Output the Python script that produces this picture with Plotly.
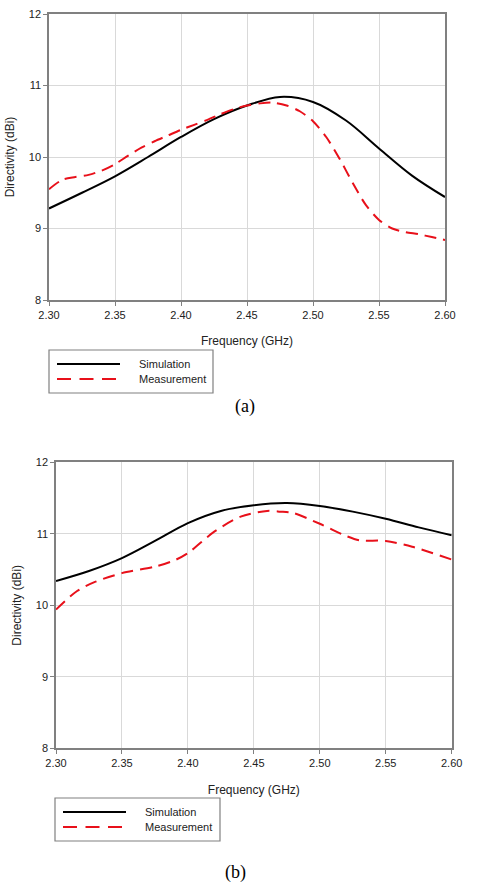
import plotly.graph_objects as go

# ---------------- data ----------------
freq_a_sim = [2.300, 2.325, 2.350, 2.375, 2.400, 2.425, 2.450, 2.475, 2.500, 2.525, 2.550, 2.575, 2.600]
dir_a_sim = [9.28, 9.50, 9.73, 10.00, 10.28, 10.53, 10.72, 10.84, 10.77, 10.51, 10.12, 9.74, 9.44]

freq_a_meas = [2.30, 2.31, 2.32, 2.33, 2.34, 2.35, 2.36, 2.37, 2.38, 2.39, 2.40, 2.41, 2.42, 2.43, 2.44, 2.45,
               2.46, 2.47, 2.48, 2.49, 2.50, 2.51, 2.52, 2.53, 2.54, 2.55, 2.56, 2.57, 2.58, 2.59, 2.60]
dir_a_meas = [9.55, 9.68, 9.72, 9.75, 9.81, 9.90, 10.02, 10.13, 10.22, 10.30, 10.38, 10.45, 10.52, 10.60, 10.67, 10.72,
              10.75, 10.76, 10.72, 10.64, 10.50, 10.28, 9.98, 9.64, 9.33, 9.12, 9.00, 8.95, 8.92, 8.88, 8.84]

freq_b_sim = [2.300, 2.325, 2.350, 2.375, 2.400, 2.425, 2.450, 2.475, 2.500, 2.525, 2.550, 2.575, 2.600]
dir_b_sim = [10.34, 10.48, 10.66, 10.90, 11.15, 11.32, 11.40, 11.43, 11.39, 11.31, 11.21, 11.09, 10.98]

freq_b_meas = [2.30, 2.316, 2.33, 2.35, 2.375, 2.39, 2.40, 2.42, 2.44, 2.46, 2.47, 2.48, 2.50, 2.52, 2.53, 2.55, 2.57, 2.60]
dir_b_meas = [9.94, 10.20, 10.33, 10.45, 10.54, 10.63, 10.73, 11.03, 11.24, 11.32, 11.31, 11.29, 11.14, 10.97, 10.91, 10.90, 10.82, 10.64]

x_ticks = [2.30, 2.35, 2.40, 2.45, 2.50, 2.55, 2.60]
x_tick_labels = ["2.30", "2.35", "2.40", "2.45", "2.50", "2.55", "2.60"]
y_ticks = [8, 9, 10, 11, 12]
series_names = ["Simulation", "Measurement"]
panel_labels = ["(a)", "(b)"]

# ---------------- figure ----------------
W, H = 486, 895
BLACK = "#000000"
RED = "#e8101a"
GRID = "#d9d9d9"
AXIS = "#808080"
FONT = "Liberation Sans, Arial, sans-serif"


def px_x(p):
    return p / W


def px_y(p):
    return 1 - p / H


fig = go.Figure()

panels = [
    dict(xa="x", ya="y", sim=(freq_a_sim, dir_a_sim), meas=(freq_a_meas, dir_a_meas)),
    dict(xa="x2", ya="y2", sim=(freq_b_sim, dir_b_sim), meas=(freq_b_meas, dir_b_meas)),
]
for p in panels:
    fig.add_trace(go.Scatter(x=p["sim"][0], y=p["sim"][1], mode="lines", name=series_names[0],
                             line=dict(color=BLACK, width=2, shape="spline", smoothing=1.0),
                             xaxis=p["xa"], yaxis=p["ya"], showlegend=False))
    fig.add_trace(go.Scatter(x=p["meas"][0], y=p["meas"][1], mode="lines", name=series_names[1],
                             line=dict(color=RED, width=2, dash="12px,7px", shape="spline", smoothing=0.8),
                             xaxis=p["xa"], yaxis=p["ya"], showlegend=False))

axis_common = dict(
    showline=True, linecolor=AXIS, linewidth=1.5, mirror=True,
    showgrid=True, gridcolor=GRID, gridwidth=1,
    ticks="outside", ticklen=4, tickcolor=AXIS, tickwidth=1,
    zeroline=False, automargin=False,
    tickfont=dict(family=FONT, size=11, color="#222222"),
)

# panel geometry in pixels: (left, right, top, bottom)
geo = [(49, 445, 14, 300), (56, 451.7, 462.3, 748.3)]

for i, (l, r, t, b) in enumerate(geo):
    sx = "" if i == 0 else "2"
    fig.layout["xaxis" + sx] = dict(
        axis_common, domain=[px_x(l), px_x(r)], range=[2.30, 2.60],
        tickvals=x_ticks, ticktext=x_tick_labels, anchor="y" + sx,
        title=dict(text="Frequency (GHz)", font=dict(family=FONT, size=12, color="#222222"), standoff=17),
    )
    fig.layout["yaxis" + sx] = dict(
        axis_common, domain=[px_y(b), px_y(t)], range=[8, 12],
        tickvals=y_ticks, anchor="x" + sx,
        title=dict(text="Directivity (dBi)", font=dict(family=FONT, size=12, color="#222222"), standoff=12),
    )

# legends (drawn as boxes with sample lines and text)
legend_boxes = [(49, 213, 350, 393), (55, 220, 798, 841)]
shapes = []
annotations = []
for (l, r, t, b) in legend_boxes:
    shapes.append(dict(type="rect", xref="paper", yref="paper",
                       x0=px_x(l), x1=px_x(r), y0=px_y(b), y1=px_y(t),
                       line=dict(color=AXIS, width=1.2), fillcolor="white"))
    y1 = t + 14
    y2 = t + 29
    shapes.append(dict(type="line", xref="paper", yref="paper",
                       x0=px_x(l + 8), x1=px_x(l + 71), y0=px_y(y1), y1=px_y(y1),
                       line=dict(color=BLACK, width=2)))
    shapes.append(dict(type="line", xref="paper", yref="paper",
                       x0=px_x(l + 8), x1=px_x(l + 71), y0=px_y(y2), y1=px_y(y2),
                       line=dict(color=RED, width=2, dash="14px,8.5px")))
    for name, yy in zip(series_names, (y1, y2)):
        annotations.append(dict(text=name, xref="paper", yref="paper", x=px_x(l + 88), y=px_y(yy),
                                xanchor="left", yanchor="middle", showarrow=False,
                                font=dict(family=FONT, size=11, color="#222222")))

for lab, (cx, cy) in zip(panel_labels, [(245, 406), (235, 872)]):
    annotations.append(dict(text=lab, xref="paper", yref="paper", x=px_x(cx), y=px_y(cy),
                            xanchor="center", yanchor="middle", showarrow=False,
                            font=dict(family="Liberation Serif, Times New Roman, serif", size=18, color="#000000")))

fig.update_layout(
    width=W, height=H,
    margin=dict(l=0, r=0, t=0, b=0),
    paper_bgcolor="white", plot_bgcolor="white",
    shapes=shapes, annotations=annotations,
    showlegend=False,
)

fig.write_html("out.html")
